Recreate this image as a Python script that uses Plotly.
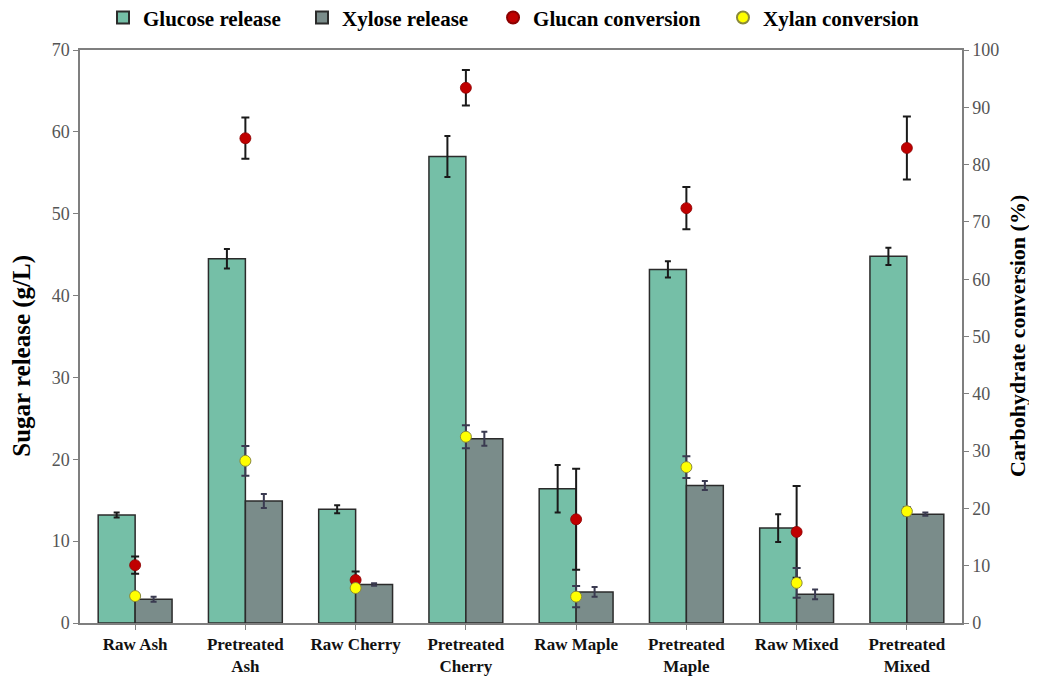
import plotly.graph_objects as go

categories = ["Raw Ash", "Pretreated<br>Ash", "Raw Cherry", "Pretreated<br>Cherry",
              "Raw Maple", "Pretreated<br>Maple", "Raw Mixed", "Pretreated<br>Mixed"]
glucose = [13.2, 44.5, 13.9, 57.0, 16.4, 43.2, 11.6, 44.8]
glucose_err = [0.3, 1.2, 0.5, 2.5, 2.9, 1.0, 1.7, 1.05]
xylose = [2.9, 14.9, 4.7, 22.5, 3.8, 16.8, 3.5, 13.3]
xylose_err = [0.3, 0.85, 0.15, 0.85, 0.6, 0.55, 0.6, 0.2]
glucan = [10.1, 84.6, 7.5, 93.4, 18.1, 72.4, 15.9, 82.9]
glucan_err = [1.5, 3.6, 1.5, 3.1, 8.8, 3.7, 8.0, 5.5]
xylan = [4.7, 28.3, 6.1, 32.5, 4.6, 27.2, 7.0, 19.5]
xylan_err = [0.5, 2.6, 0.5, 2.0, 1.85, 1.9, 2.6, 0.7]

FONT = "Liberation Serif, Times New Roman, serif"
AXC = "#7f7f7f"

fig = go.Figure()
fig.add_trace(go.Bar(
    x=categories, y=glucose, name="<b>Glucose release</b>", legend="legend",
    marker=dict(color="#75BFA7", line=dict(color="#2b2b2b", width=1.5)),
    error_y=dict(type="data", array=glucose_err, color="#1a1a1a", thickness=2, width=3),
))
fig.add_trace(go.Bar(
    x=categories, y=xylose, name="<b>Xylose release</b>", legend="legend2",
    marker=dict(color="#7A8C8A", line=dict(color="#2b2b2b", width=1.5)),
    error_y=dict(type="data", array=xylose_err, color="#3a3a50", thickness=2, width=3),
))
fig.add_trace(go.Scatter(
    x=categories, y=glucan, name="<b>Glucan conversion</b>", mode="markers", yaxis="y2",
    legend="legend3",
    marker=dict(color="#C00000", size=11, line=dict(color="#8b0000", width=0.8)),
    error_y=dict(type="data", array=glucan_err, color="#1a1a1a", thickness=2, width=4),
))
fig.add_trace(go.Scatter(
    x=categories, y=xylan, name="<b>Xylan conversion</b>", mode="markers", yaxis="y2",
    legend="legend4",
    marker=dict(color="#FFFF00", size=11, line=dict(color="#8a8a3a", width=1)),
    error_y=dict(type="data", array=xylan_err, color="#3a3a50", thickness=2, width=4),
))


def leg(xpos):
    return dict(orientation="h", x=xpos, xanchor="left", y=1.056, yanchor="middle",
                font=dict(family=FONT, size=21, color="black"),
                itemsizing="constant", bgcolor="rgba(0,0,0,0)")


fig.update_layout(
    width=1029, height=668,
    margin=dict(l=72, r=75, t=42, b=53, autoexpand=False),
    paper_bgcolor="white", plot_bgcolor="white",
    barmode="group", bargap=0.33, bargroupgap=0,
    font=dict(family=FONT, color="black"),
    showlegend=True,
    legend=leg(0.0261), legend2=leg(0.2517), legend3=leg(0.4683), legend4=leg(0.7290),
    xaxis=dict(
        showline=True, linecolor=AXC, linewidth=1.5, mirror=True,
        ticks="outside", ticklen=5, tickcolor=AXC,
        tickfont=dict(family=FONT, size=17, color="#111"),
        showgrid=False,
        tickvals=categories, ticktext=[f"<b>{c}</b>" for c in categories],
    ),
    yaxis=dict(
        range=[0, 70], dtick=10, showline=True, linecolor=AXC, linewidth=1.5,
        ticks="outside", ticklen=5, tickcolor=AXC, showgrid=False, zeroline=False,
        tickfont=dict(family=FONT, size=18, color="#555"),
    ),
    yaxis2=dict(
        range=[0, 100], dtick=10, overlaying="y", side="right",
        showline=True, linecolor=AXC, linewidth=1.5,
        ticks="outside", ticklen=5, tickcolor=AXC, showgrid=False, zeroline=False,
        tickfont=dict(family=FONT, size=18, color="#555"),
    ),
    annotations=[
        dict(text="<b>Sugar release (g/L)</b>", textangle=-90, xref="paper", yref="paper",
             x=-0.066, y=0.466, xanchor="center", yanchor="middle", showarrow=False,
             font=dict(family=FONT, size=25, color="black")),
        dict(text="<b>Carbohydrate conversion (%)</b>", textangle=-90, xref="paper", yref="paper",
             x=1.063, y=0.5, xanchor="center", yanchor="middle", showarrow=False,
             font=dict(family=FONT, size=22, color="black")),
    ],
)

fig.write_html("out.html")
